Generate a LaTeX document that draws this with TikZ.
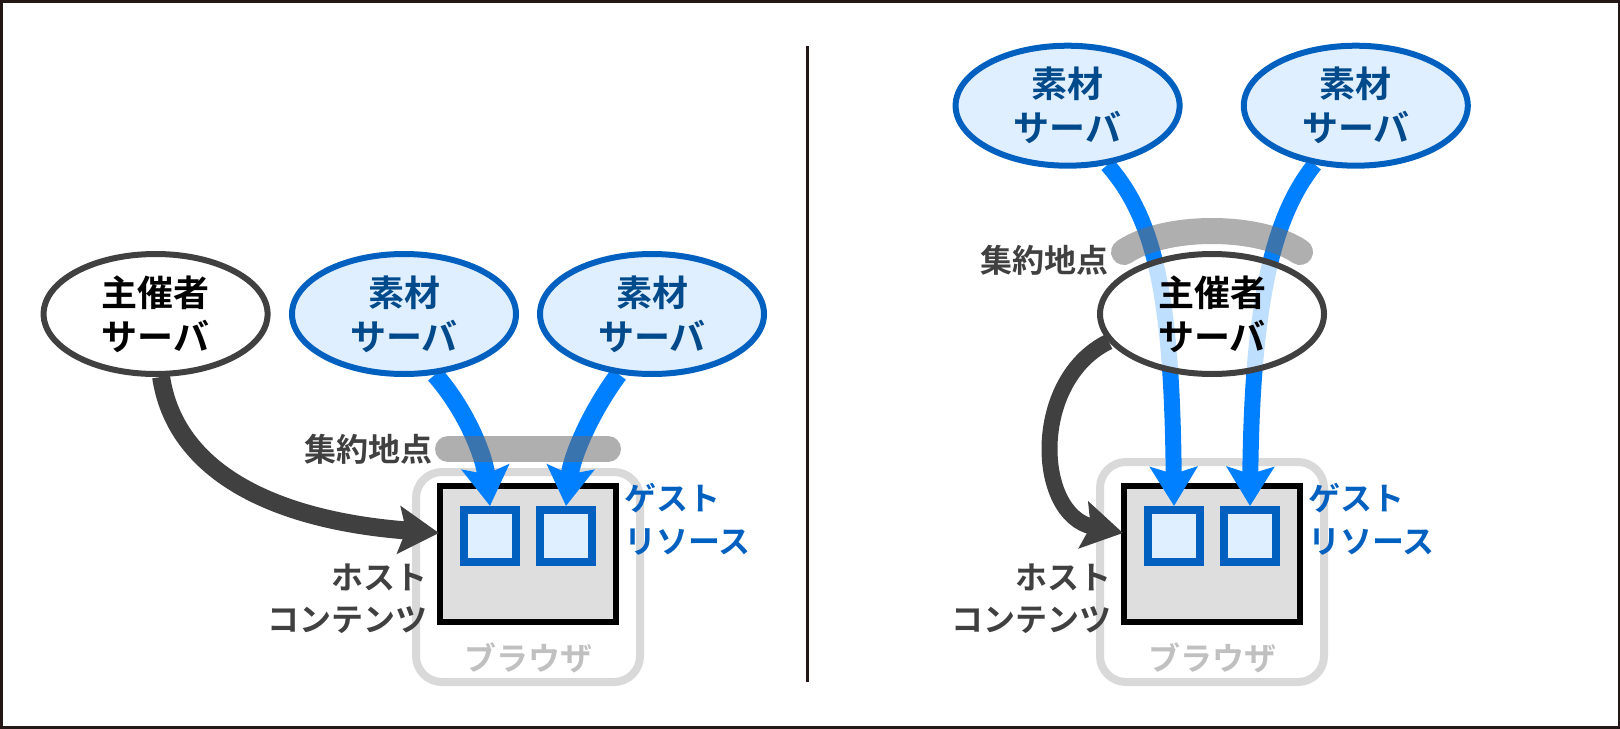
\documentclass[tikz,border=0pt]{standalone}
\usepackage{fontspec}
\usetikzlibrary{shapes.geometric,arrows.meta}
\newfontfamily\jp{Noto Sans CJK JP}[BoldFont={Noto Sans CJK JP Bold}]
\definecolor{srvblue}{HTML}{0060BF}
\definecolor{srvfill}{HTML}{DFEFFF}
\definecolor{srvtext}{HTML}{004A8C}
\definecolor{flowblue}{HTML}{0080FF}
\definecolor{dk}{HTML}{404040}
\definecolor{brline}{HTML}{D9D9D9}
\definecolor{brtext}{HTML}{C0C0C0}
\definecolor{hostfill}{HTML}{DEDEDE}
\definecolor{frameline}{HTML}{231815}
\pgfdeclarelayer{lowest}
\pgfdeclarelayer{flows}
\pgfsetlayers{lowest,flows,main}
\tikzset{
  x=0.5pt,y=-0.5pt,
  srv/.style={ellipse,minimum width=112pt,minimum height=60pt,inner sep=0pt,line width=3pt,
    align=center,font=\jp\bfseries\fontsize{18}{22}\selectfont},
  mat/.style={srv,draw=srvblue,fill=srvfill,text=srvtext},
  hst/.style={srv,draw=dk,fill=white,fill opacity=.75,text opacity=1,text=black},
  browser/.style={draw=brline,line width=4pt,rounded corners=13pt,minimum width=112pt,inner sep=0pt},
  content/.style={draw=black,fill=hostfill,line width=3pt,minimum width=88pt,minimum height=68pt,inner sep=0pt},
  guest/.style={draw=srvblue,fill=srvfill,line width=4pt,minimum width=26pt,minimum height=26pt,inner sep=0pt},
  lbl/.style={font=\jp\bfseries\fontsize{16}{22}\selectfont,inner sep=0pt},
  flow/.style={draw=flowblue,line width=8pt,-{Stealth[length=19.5pt,width=23.5pt,inset=3.5pt]}},
  hflow/.style={draw=dk,line width=8pt,-{Stealth[length=20pt,width=23.5pt,inset=3.5pt]}},
  agg/.style={draw=black!58,draw opacity=.54,line width=13pt,line cap=round},
}
\begin{document}
\begin{tikzpicture}
\useasboundingbox (0,0) rectangle (1620,728);
\draw[frameline,line width=1.5pt] (1,1) rectangle (1619,727);
\coordinate (divtop) at (807.5,46);
\coordinate (divbot) at (807.5,682);
\draw[frameline,line width=1.2pt] (divtop) -- (divbot);

\begin{pgfonlayer}{lowest}
\node[browser,minimum height=105pt] (brL) at (528,577) {};
\node[content] (cL) at (528,554) {};
\node[guest] (g1L) at (490,536) {};
\node[guest] (g2L) at (566,536) {};
\node[browser,minimum height=110pt] (brR) at (1212,572) {};
\node[content] (cR) at (1212,554) {};
\node[guest] (g1R) at (1174,536) {};
\node[guest] (g2R) at (1250,536) {};
\end{pgfonlayer}

% left panel
\node[lbl,text=brtext] (brLt) at (528,658) {ブラウザ};
\node[hst] (hL) at (155.6,314) {主催者\\サーバ};
\node[mat] (m1L) at (404,314) {素材\\サーバ};
\node[mat] (m2L) at (652,314) {素材\\サーバ};
\coordinate (aL1) at (448,449);
\coordinate (aL2) at (608,449);
\begin{pgfonlayer}{flows}
\draw[hflow,line width=9pt] (hL.-85) .. controls (175,470) and (270,520) .. ([xshift=1pt]cL.west |- 0,533);
\draw[flow,line width=9pt] (m1L.-63) .. controls (466,410) and (484,455) .. (g1L.north);
\draw[flow,line width=9pt] (m2L.-119) .. controls (592,410) and (572,455) .. (g2L.north);
\draw[agg] (aL1) -- (aL2);
\end{pgfonlayer}
\node[lbl,text=dk,anchor=east] (aggL) at (432.5,449) {集約地点};
\node[lbl,text=srvblue,anchor=west] (gtL1) at (624,498) {ゲスト};
\node[lbl,text=srvblue,anchor=west] (gtL2) at (624,542) {リソース};
\node[lbl,text=dk,anchor=east] (htL1) at (428,577) {ホスト};
\node[lbl,text=dk,anchor=east] (htL2) at (428,620) {コンテンツ};

% right panel
\node[lbl,text=brtext] (brRt) at (1212,658) {ブラウザ};
\node[mat] (m1R) at (1067.6,105.7) {素材\\サーバ};
\node[mat] (m2R) at (1355.8,105.7) {素材\\サーバ};
\coordinate (aR1) at (1124,252);
\coordinate (aR2) at (1300,252);
\node[hst] (hR) at (1212,314) {主催者\\サーバ};
\begin{pgfonlayer}{flows}
\draw[flow] (m1R.-56) .. controls (1156,220) and (1172,300) .. (g1R.north);
\draw[flow] (m2R.-125) .. controls (1274,215) and (1252,300) .. (g2R.north);
\draw[agg] (aR1) .. controls (1165,224) and (1259,224) .. (aR2);
\draw[hflow] (hR.-165) .. controls (1030,380) and (1035,515) .. ([xshift=1pt]cR.west |- 0,533);
\end{pgfonlayer}
\node[lbl,text=dk,anchor=east] (aggR) at (1108.5,260) {集約地点};
\node[lbl,text=srvblue,anchor=west] (gtR1) at (1308,498) {ゲスト};
\node[lbl,text=srvblue,anchor=west] (gtR2) at (1308,542) {リソース};
\node[lbl,text=dk,anchor=east] (htR1) at (1112,577) {ホスト};
\node[lbl,text=dk,anchor=east] (htR2) at (1112,620) {コンテンツ};
\end{tikzpicture}
\end{document}
